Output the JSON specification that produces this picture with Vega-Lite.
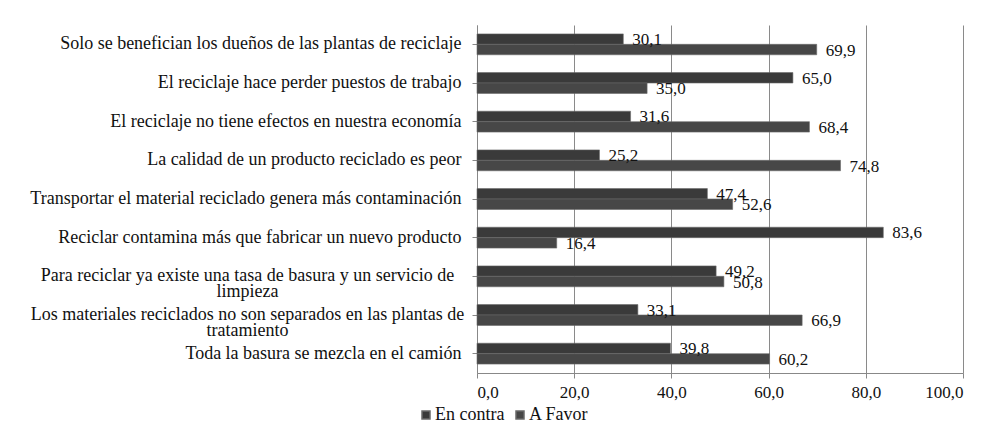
{
  "$schema": "https://vega.github.io/schema/vega-lite/v6.json",
  "autosize": "none",
  "width": 486,
  "height": 348,
  "padding": {"left": 477, "top": 25, "right": 39, "bottom": 57},
  "background": "white",
  "config": {
    "locale": {"number": {"decimal": ",", "thousands": ".", "grouping": [3], "currency": ["", " €"]}},
    "font": "Liberation Serif",
    "view": {"stroke": null}
  },
  "data": {
    "values": [
      {"item": "Solo se benefician los dueños de las plantas de reciclaje", "serie": "En contra", "valor": 30.1},
      {"item": "Solo se benefician los dueños de las plantas de reciclaje", "serie": "A Favor", "valor": 69.9},
      {"item": "El reciclaje hace perder puestos de trabajo", "serie": "En contra", "valor": 65.0},
      {"item": "El reciclaje hace perder puestos de trabajo", "serie": "A Favor", "valor": 35.0},
      {"item": "El reciclaje no tiene efectos en nuestra economía", "serie": "En contra", "valor": 31.6},
      {"item": "El reciclaje no tiene efectos en nuestra economía", "serie": "A Favor", "valor": 68.4},
      {"item": "La calidad de un producto reciclado es peor", "serie": "En contra", "valor": 25.2},
      {"item": "La calidad de un producto reciclado es peor", "serie": "A Favor", "valor": 74.8},
      {"item": "Transportar el material reciclado genera más contaminación", "serie": "En contra", "valor": 47.4},
      {"item": "Transportar el material reciclado genera más contaminación", "serie": "A Favor", "valor": 52.6},
      {"item": "Reciclar contamina más que fabricar un nuevo producto", "serie": "En contra", "valor": 83.6},
      {"item": "Reciclar contamina más que fabricar un nuevo producto", "serie": "A Favor", "valor": 16.4},
      {"item": "Para reciclar ya existe una tasa de basura y un servicio de|limpieza", "serie": "En contra", "valor": 49.2},
      {"item": "Para reciclar ya existe una tasa de basura y un servicio de|limpieza", "serie": "A Favor", "valor": 50.8},
      {"item": "Los materiales reciclados no son separados en las plantas de|tratamiento", "serie": "En contra", "valor": 33.1},
      {"item": "Los materiales reciclados no son separados en las plantas de|tratamiento", "serie": "A Favor", "valor": 66.9},
      {"item": "Toda la basura se mezcla en el camión", "serie": "En contra", "valor": 39.8},
      {"item": "Toda la basura se mezcla en el camión", "serie": "A Favor", "valor": 60.2}
    ]
  },
  "encoding": {
    "y": {
      "field": "item", "type": "nominal", "sort": null,
      "scale": {"paddingInner": 0.46, "paddingOuter": 0.23},
      "axis": {
        "title": null,
        "labelFont": "Liberation Serif",
        "labelFontSize": 18,
        "labelColor": "#111111",
        "labelLimit": 0,
        "labelPadding": {"condition": {"test": "indexof(datum.value, '|') > 0", "value": 225}, "value": 11},
        "labelAlign": {"condition": {"test": "indexof(datum.value, '|') > 0", "value": "center"}, "value": "right"},
        "labelLineHeight": 16,
        "tickSize": 5,
        "tickColor": "#888888",
        "domainColor": "#888888",
        "labelExpr": "split(datum.value, '|')"
      }
    },
    "yOffset": {"field": "serie", "type": "nominal", "sort": ["En contra", "A Favor"]},
    "x": {
      "field": "valor", "type": "quantitative",
      "scale": {"domain": [0, 100]},
      "axis": {
        "title": null,
        "values": [0, 20, 40, 60, 80, 100],
        "format": ".1f",
        "grid": true,
        "gridColor": "#8a8a8a",
        "tickSize": 5,
        "tickColor": "#888888",
        "domainColor": "#888888",
        "labelFont": "Liberation Serif",
        "labelFontSize": 17,
        "labelColor": "#111111",
        "labelPadding": 6
      }
    }
  },
  "layer": [
    {
      "mark": {"type": "bar", "stroke": "#6a6a6a", "strokeWidth": 0.6},
      "encoding": {
        "color": {
          "field": "serie", "type": "nominal",
          "scale": {"domain": ["En contra", "A Favor"], "range": ["#3a3a3a", "#474747"]},
          "legend": {
            "orient": "none",
            "legendX": -60,
            "legendY": 381,
            "direction": "horizontal",
            "title": null,
            "symbolType": "square",
            "symbolSize": 64,
            "labelFont": "Liberation Serif",
            "labelFontSize": 18,
            "labelColor": "#111111",
            "labelOffset": 0,
            "columnPadding": 6
          }
        }
      }
    },
    {
      "mark": {"type": "text", "align": "left", "baseline": "middle", "dx": 9, "dy": 1, "fontSize": 17, "font": "Liberation Serif", "color": "#111111"},
      "encoding": {"text": {"field": "valor", "type": "quantitative", "format": ".1f"}}
    }
  ]
}
